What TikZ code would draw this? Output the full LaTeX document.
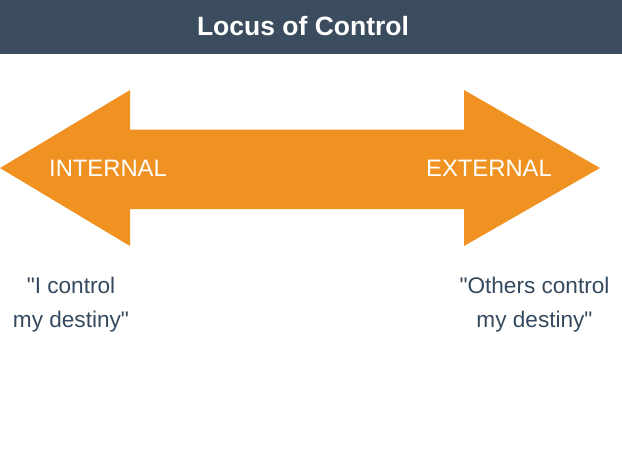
\documentclass[tikz,border=0pt]{standalone}
\usepackage{fontspec}
\setmainfont{Liberation Sans}[Ligatures=TeXOff]
\definecolor{headbg}{HTML}{3A4C5E}
\definecolor{arrorange}{HTML}{F09222}
\definecolor{slate}{HTML}{34495E}
\begin{document}
\begin{tikzpicture}[x=1pt,y=-1pt,
  title/.style={text=white,font=\fontsize{26.5}{30}\selectfont\bfseries,inner sep=0,anchor=base},
  arrlabel/.style={text=white,font=\fontsize{23.8}{28}\selectfont,inner sep=0,anchor=base},
  quote/.style={text=slate,font=\fontsize{22.6}{34.4}\selectfont,inner sep=0,anchor=base,align=center}]
\useasboundingbox (0,0) rectangle (622,451);
\fill[headbg] (0,0) rectangle (622,54);
\node[title] (t) at (303,35) {Locus of Control};
\fill[arrorange] (0,168) -- (130,90) -- (130,129.5) -- (464,129.5) -- (464,90) -- (600,168)
  -- (464,246) -- (464,209) -- (130,209) -- (130,246) -- cycle;
\node[arrlabel] (int) at (108,176) {INTERNAL};
\node[arrlabel] (ext) at (489,176) {EXTERNAL};
\node[quote] (q1) at (71,327.7) {"I control\\my destiny"};
\node[quote] (q2) at (534.5,327.7) {"Others control\\my destiny"};
\end{tikzpicture}
\end{document}
